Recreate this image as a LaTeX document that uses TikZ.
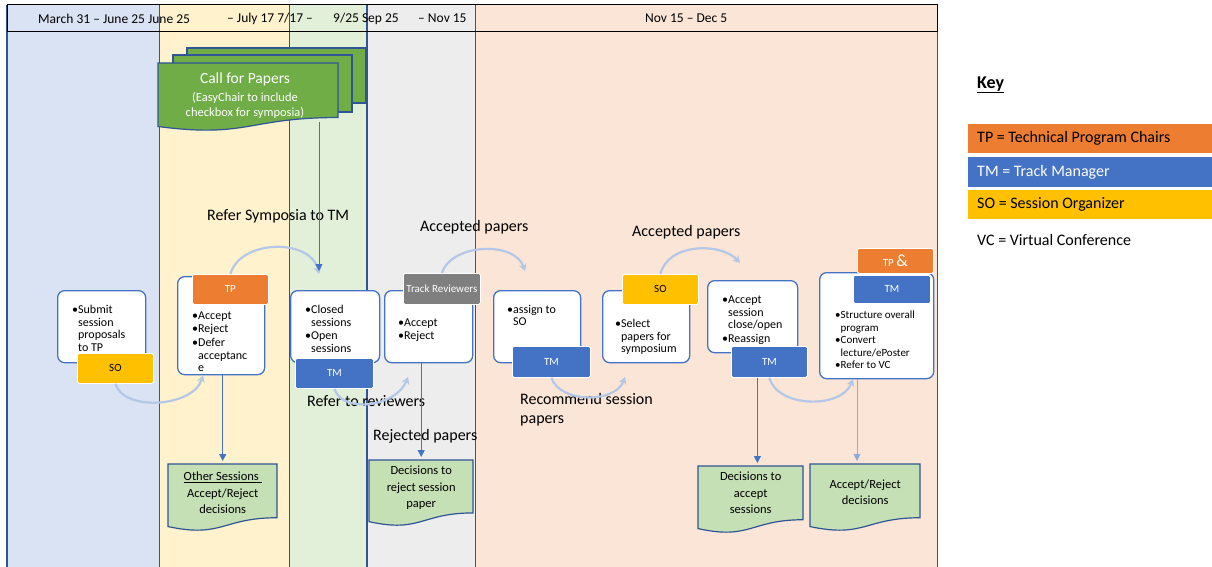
\documentclass[tikz,border=0pt]{standalone}
\usepackage{fontspec}
\setmainfont{Carlito}
\usetikzlibrary{arrows.meta,calc}
\definecolor{laneA}{HTML}{DAE3F3}
\definecolor{laneB}{HTML}{FFF2CC}
\definecolor{laneC}{HTML}{E2F0D9}
\definecolor{laneD}{HTML}{EDEDED}
\definecolor{laneE}{HTML}{FBE5D6}
\definecolor{laneln}{HTML}{2F5597}
\definecolor{orangeC}{HTML}{ED7D31}
\definecolor{blueC}{HTML}{4472C4}
\definecolor{yellowC}{HTML}{FFC000}
\definecolor{grayC}{HTML}{7F7F7F}
\definecolor{cfpgreen}{HTML}{70AD47}
\definecolor{docgreen}{HTML}{C5E0B4}
\definecolor{docborder}{HTML}{2F5597}
\definecolor{arcblue}{HTML}{B4C7E7}
\definecolor{lightline}{HTML}{8FAADC}
\newcommand\bu{\textbullet}
\newcommand\ind{\phantom{\textbullet}}
\newcommand\docpath[4]{%
  \draw[docf] (#1,#2) -- (#1+#3,#2) -- (#1+#3,#2+0.802*#4)
    .. controls (#1+0.5*#3,#2+0.802*#4) and (#1+0.5*#3,#2+1.1075*#4) .. (#1,#2+0.934*#4) -- cycle;}
\tikzset{
  pbox/.style={draw=blueC, line width=1.3pt, fill=white, rounded corners=7pt, anchor=north west, inner sep=0pt},
  tagbox/.style={draw=white, line width=0.8pt, rounded corners=1.5pt, anchor=north west, inner sep=0pt, font=\fontsize{11}{12}\selectfont},
  tagTP/.style={tagbox, fill=orangeC, text=white},
  tagTM/.style={tagbox, fill=blueC, text=white},
  tagSO/.style={tagbox, fill=yellowC, text=black},
  tagTR/.style={tagbox, fill=grayC, text=white},
  btext/.style={anchor=north west, align=left, inner sep=0pt, font=\fontsize{12}{12.5}\selectfont},
  lbl/.style={anchor=west, inner sep=0pt, font=\fontsize{16}{19}\selectfont},
  hdr/.style={anchor=west, inner sep=0pt, font=\fontsize{13.5}{15}\selectfont},
  keytext/.style={anchor=west, inner sep=0pt, font=\fontsize{16}{19}\selectfont},
  arcc/.style={draw=arcblue, line width=2.2pt, -{Stealth[length=7pt,width=8pt]}},
  vline/.style={draw=blueC, line width=0.9pt, shorten >=3pt, -{Triangle[length=7pt,width=7pt]}},
  docf/.style={fill=docgreen, draw=docborder, line width=1.2pt},
  doctext/.style={align=center, inner sep=0pt, anchor=north west, font=\fontsize{12.5}{16.5}\selectfont},
  cfpf/.style={fill=cfpgreen, draw=docborder, line width=1.2pt},
}
\begin{document}
\begin{tikzpicture}[x=1pt,y=-1pt]
\useasboundingbox (0,0) rectangle (1212,567);
% lanes
\fill[laneA] (7,5) rectangle (159,567);
\fill[laneB] (159,5) rectangle (289,567);
\fill[laneC] (289,5) rectangle (367,567);
\fill[laneD] (367,5) rectangle (475,567);
\fill[laneE] (475,5) rectangle (937,567);
\draw[laneln, line width=1.5pt] (7,5) -- (7,567);
\draw[laneln, line width=1pt] (159,5) -- (159,567);
\draw[laneln, line width=1pt] (289,5) -- (289,567);
\draw[laneln, line width=2.2pt] (367,5) -- (367,567);
\draw[laneln, line width=1pt] (475,5) -- (475,567);
\draw[laneln, line width=1pt] (937,5) -- (937,567);
\draw[black, line width=1pt] (7,5) rectangle (937,32);
% header
\node[hdr] (h1) at (38,18.5) {March 31 -- June 25 June 25};
\node[hdr] (h2) at (227,18.5) {-- July 17 7/17 --};
\node[hdr] (h3) at (333,18.5) {9/25 Sep 25};
\node[hdr] (h4) at (418,18.5) {-- Nov 15};
\node[hdr] (h5) at (645,18.5) {Nov 15 -- Dec 5};
% call for papers
\draw[cfpf] (187,48) rectangle (366,103);
\draw[cfpf] (173,55) rectangle (352,112);
\draw[cfpf] (158,63) -- (338,63) -- (338,63+0.802*68)
  .. controls (248,63+0.802*68) and (248,63+1.1075*68) .. (158,63+0.934*68) -- cycle;
\node[inner sep=0pt, text=white, font=\fontsize{15.5}{18}\selectfont] (cfp) at (245,79) {Call for Papers};
\node[inner sep=0pt, text=white, align=center, font=\fontsize{12.5}{15}\selectfont] (cfpsub) at (245,105.5) {(EasyChair to include\\checkbox for symposia)};
\coordinate (cfpout) at (319,122);
\coordinate (csin) at (319,274);
% floating labels
\node[lbl] (l1) at (207,216) {Refer Symposia to TM};
\node[lbl] (l2) at (420,227) {Accepted papers};
\node[lbl] (l3) at (632,232) {Accepted papers};
\node[lbl] (l4) at (307,401) {Refer to reviewers};
\node[lbl] (l5) at (373,436) {Rejected papers};
\node[lbl, align=left, anchor=north west, font=\fontsize{16}{19.5}\selectfont] (l6) at (520,393) {Recommend session\\papers};
% process boxes
\node[pbox, minimum width=88pt, minimum height=72pt] (so1box) at (57,290) {};
\node[btext] (so1t) at (72,305) {\bu Submit\\\ind session\\\ind proposals\\\ind to TP};
\node[tagSO, minimum width=76pt, minimum height=30pt] (so1tag) at (77,353) {SO};

\node[pbox, minimum width=87pt, minimum height=98pt] (tpbox) at (177,276) {};
\node[btext] (tpt) at (192,312) {\bu Accept\\\bu Reject\\[2pt]\bu Defer\\\ind acceptanc\\\ind e};
\node[tagTP, minimum width=76pt, minimum height=30pt] (tptag) at (192,274) {TP};

\node[pbox, minimum width=89pt, minimum height=72pt] (csbox) at (290,290) {};
\node[btext] (cst) at (305,305) {\bu Closed\\\ind sessions\\[1pt]\bu Open\\\ind sessions};
\node[tagTM, minimum width=78pt, minimum height=30pt] (cstag) at (295,358) {TM};

\node[pbox, minimum width=88pt, minimum height=72pt] (trbox) at (384,290) {};
\node[btext] (trt) at (398,319) {\bu Accept\\\bu Reject};
\node[tagTR, minimum width=77pt, minimum height=31pt] (trtag) at (403,273) {Track Reviewers};

\node[pbox, minimum width=87pt, minimum height=72pt] (asbox) at (493,290) {};
\node[btext] (ast) at (507,305) {\bu assign to\\\ind SO};
\node[tagTM, minimum width=78pt, minimum height=31pt] (astag) at (512,346) {TM};

\node[pbox, minimum width=87pt, minimum height=72pt] (spbox) at (602,290) {};
\node[btext] (spt) at (615,319) {\bu Select\\\ind papers for\\\ind symposium};
\node[tagSO, minimum width=76pt, minimum height=30pt] (sptag) at (622,274) {SO};

\node[pbox, minimum width=90pt, minimum height=72pt] (acbox) at (707,280) {};
\node[btext] (act) at (722,296) {\bu Accept\\\ind session\\\ind close/open\\[1pt]\bu Reassign};
\node[tagTM, minimum width=76pt, minimum height=31pt] (actag) at (731,346) {TM};

\node[pbox, minimum width=114pt, minimum height=106pt] (sbbox) at (819,272) {};
\node[btext, font=\fontsize{11}{12.5}\selectfont] (sbt) at (835,311) {\bu Structure overall\\\ind program\\\bu Convert\\\ind lecture/ePoster\\\bu Refer to VC};
\node[tagTP, minimum width=76pt, minimum height=25pt] (sbtp) at (857,248) {TP {\fontsize{17}{17}\selectfont\&}};
\node[tagTM, minimum width=77pt, minimum height=28pt] (sbtm) at (853,275) {TM};
\coordinate (trin) at (408,377);
\coordinate (asin) at (525,271);
\coordinate (spin) at (625,377);
\coordinate (acin) at (740,263);
% documents
\docpath{168}{464}{109}{67}
\node[doctext, minimum width=109pt, minimum height=58pt] (d1) at (168,464) {\underline{Other Sessions\ }\\Accept/Reject\\decisions};
\docpath{369}{460}{104}{66}
\node[doctext, minimum width=104pt, minimum height=56pt] (d2) at (369,460) {Decisions to\\reject session\\paper};
\docpath{698}{466}{105}{67}
\node[doctext, minimum width=105pt, minimum height=54pt] (d3) at (698,466) {Decisions to\\accept\\sessions};
\docpath{810}{464}{110}{67}
\node[doctext, minimum width=110pt, minimum height=56pt] (d4) at (810,464) {Accept/Reject\\decisions};
% arcs
\draw[arcc] (so1tag.south) .. controls +(8,28) and +(-10,32) .. ([xshift=26pt]tpbox.south west);
\draw[arcc] (tptag.north) .. controls +(10,-35) and +(-8,-36) .. (csin);
\draw[arcc] (cstag.south) .. controls +(8,25) and +(-12,30) .. (trin);
\draw[arcc] (trtag.north) .. controls +(10,-30) and +(-10,-30) .. (asin);
\draw[arcc] (astag.south) .. controls +(8,25) and +(-10,27) .. (spin);
\draw[arcc] (sptag.north) .. controls +(8,-32) and +(-18,-20) .. (acin);
\draw[arcc] (actag.south) .. controls +(8,30) and +(-12,30) .. ([xshift=34pt]sbbox.south west);
% vertical arrows
\draw[vline] (cfpout) -- (csin);
\draw[vline] (tpbox.south -| d1.north) -- (d1.north);
\draw[vline] (trbox.south -| d2.north) -- (d2.north);
\draw[vline] ([xshift=-12pt]actag.south) -- ([xshift=-12pt]actag.south |- d3.north);
\draw[vline, draw=lightline] ([xshift=38pt]sbbox.south west) -- ([xshift=38pt]sbbox.south west |- d4.north);
% key
\node[anchor=west, inner sep=0pt, font=\fontsize{18}{20}\bfseries] (key) at (977,85) {\underline{Key}};
\fill[orangeC] (968,124) rectangle (1212,153);
\fill[blueC] (968,157) rectangle (1212,187);
\fill[yellowC] (968,190) rectangle (1212,219);
\node[keytext] (k1) at (977,138.5) {TP = Technical Program Chairs};
\node[keytext, text=white] (k2) at (977,172) {TM = Track Manager};
\node[keytext] (k3) at (977,204.5) {SO = Session Organizer};
\node[keytext] (k4) at (977,240) {VC = Virtual Conference};
\end{tikzpicture}
\end{document}
